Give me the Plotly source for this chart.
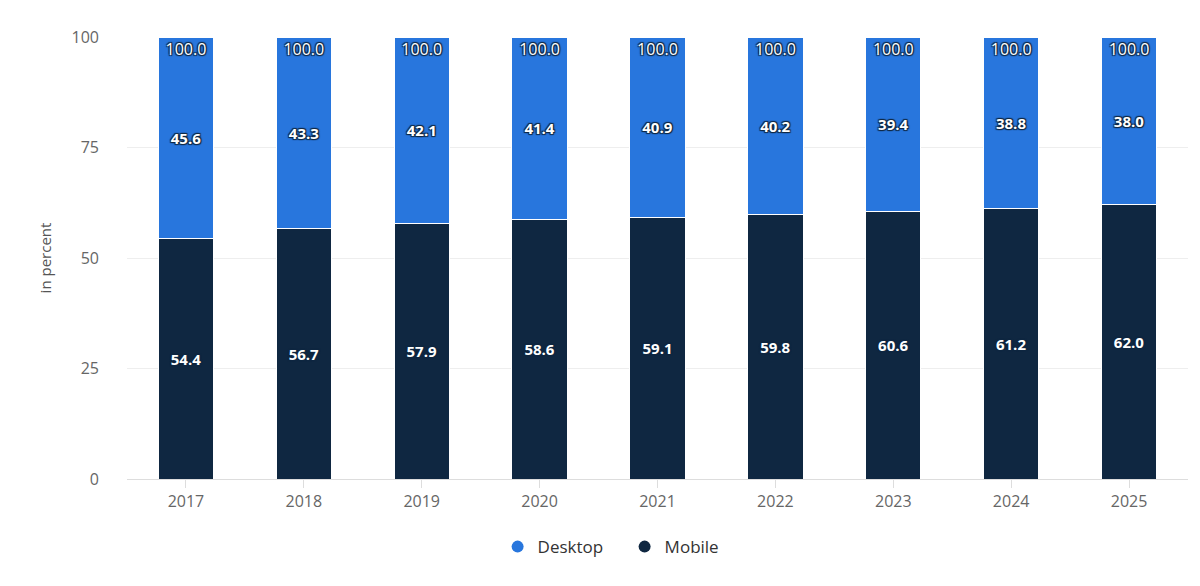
"""Stacked share of desktop vs mobile, 2017-2025."""
import plotly.graph_objects as go

years = ["2017", "2018", "2019", "2020", "2021", "2022", "2023", "2024", "2025"]
mobile = [54.4, 56.7, 57.9, 58.6, 59.1, 59.8, 60.6, 61.2, 62.0]
desktop = [45.6, 43.3, 42.1, 41.4, 40.9, 40.2, 39.4, 38.8, 38.0]
totals = [100.0, 100.0, 100.0, 100.0, 100.0, 100.0, 100.0, 100.0, 100.0]

DESKTOP_COLOR = "#2876dd"
MOBILE_COLOR = "#0f2741"
OUTLINE = ("1px 1px 1px #0f2741, -1px -1px 1px #0f2741, "
           "1px -1px 1px #0f2741, -1px 1px 1px #0f2741")

label_font = dict(family="Open Sans, sans-serif", size=15, color="white",
                  weight="bold", shadow=OUTLINE)

fig = go.Figure()

# stacked bars (legend handled by dummy traces below to get round icons)
fig.add_trace(go.Bar(
    x=years, y=mobile, name="Mobile", showlegend=False,
    marker=dict(color=MOBILE_COLOR, line=dict(color="white", width=1)),
    text=[f"{v:.1f}" for v in mobile], textposition="inside",
    insidetextanchor="middle", textfont=label_font, textangle=0,
    hoverinfo="x+y",
))
fig.add_trace(go.Bar(
    x=years, y=desktop, name="Desktop", showlegend=False,
    marker=dict(color=DESKTOP_COLOR, line=dict(color="white", width=1)),
    text=[f"{v:.1f}" for v in desktop], textposition="inside",
    insidetextanchor="middle", textfont=label_font, textangle=0,
    hoverinfo="x+y",
))

# totals on top of each stack (invisible marker nudges the text down a bit)
fig.add_trace(go.Scatter(
    x=years, y=totals, mode="markers+text", showlegend=False,
    marker=dict(size=8, opacity=0),
    text=[f"{v:.1f}" for v in totals], textposition="bottom center",
    textfont=dict(family="Open Sans, sans-serif", size=16, color="white",
                  shadow=OUTLINE),
    hoverinfo="skip",
))

# legend entries with circle markers
for name, color in [("Desktop", DESKTOP_COLOR), ("Mobile", MOBILE_COLOR)]:
    fig.add_trace(go.Scatter(
        x=[None], y=[None], mode="markers", name=name,
        marker=dict(symbol="circle", size=17, color=color),
    ))

fig.update_layout(
    barmode="stack",
    bargap=0.53,
    width=1200,
    height=586,
    margin=dict(l=119, r=20, t=29, b=115),
    plot_bgcolor="white",
    paper_bgcolor="white",
    font=dict(family="Open Sans, sans-serif", color="#666666", size=16),
    legend=dict(
        orientation="h", x=0.469, xanchor="center",
        y=-0.154, yanchor="middle",
        font=dict(size=17, color="#333333"),
        itemsizing="constant", traceorder="normal",
        entrywidth=82, entrywidthmode="pixels",
    ),
    xaxis=dict(
        showgrid=False, showline=True, linecolor="#dddddd", linewidth=1,
        ticks="outside", tickcolor="#dddddd", ticklen=8,
        tickfont=dict(size=16, color="#666666"),
    ),
    yaxis=dict(
        range=[0, 100], tickvals=[0, 25, 50, 75, 100],
        showgrid=True, gridcolor="#eeeeee", zeroline=False,
        tickfont=dict(size=16, color="#666666"),
        title=dict(text="in percent", standoff=16,
                   font=dict(size=15, color="#555555")),
        ticklabelstandoff=27,
    ),
)

fig.write_html("out.html")
